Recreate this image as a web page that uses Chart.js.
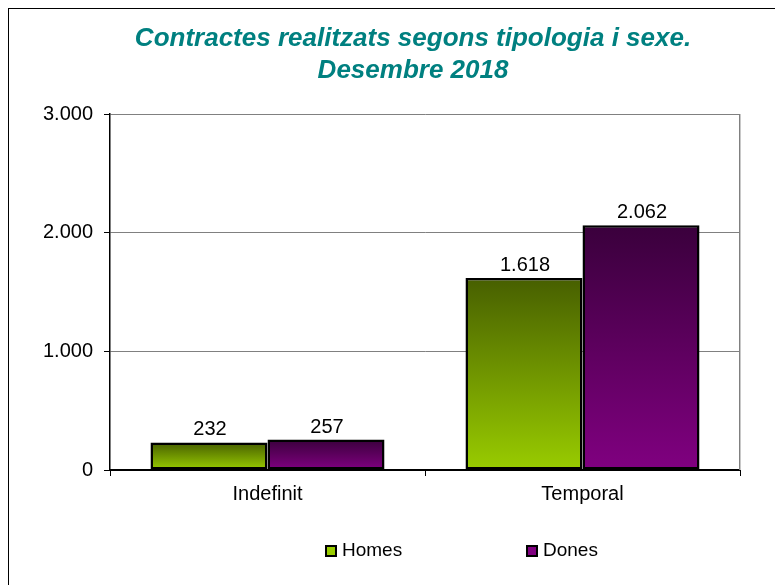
<!DOCTYPE html>
<html>
<head>
<meta charset="utf-8">
<script src="https://cdn.jsdelivr.net/npm/chart.js@4"></script>
<style>
body { margin: 0; background: #fff; }
</style>
</head>
<body>
<canvas id="chart" width="775" height="585"></canvas>
<script>
var titleLines = ["Contractes realitzats segons tipologia i sexe.", "Desembre 2018"];
var categories = ["Indefinit", "Temporal"];
var seriesNames = ["Homes", "Dones"];
var homes = [232, 1618];
var dones = [257, 2062];
var yMax = 3000;
var yStep = 1000;

var FONT = "'Liberation Sans', Arial, sans-serif";

function fmt(v) {
    return String(v).replace(/\B(?=(\d{3})+(?!\d))/g, ".");
}

// vertical gradient, dark at the top of each bar, light at the base
function gradFill(dark, light) {
    return function (ctx) {
        var chart = ctx.chart;
        var y = chart.scales.y;
        if (!chart.chartArea || !y || ctx.type !== "data") return light;
        var top = y.getPixelForValue(ctx.raw);
        var base = y.getPixelForValue(0);
        if (!isFinite(top) || !isFinite(base) || top === base) return light;
        var g = chart.ctx.createLinearGradient(0, top, 0, base);
        g.addColorStop(0, dark);
        g.addColorStop(1, light);
        return g;
    };
}

var seriesColors = [
    {dark: "#475f00", light: "#99cc00"},
    {dark: "#3a003c", light: "#800080"}
];

var decor = {
    id: "decor",
    beforeDraw: function (chart) {
        var c = chart.ctx;
        c.save();
        c.fillStyle = "#fff";
        c.fillRect(0, 0, chart.width, chart.height);
        c.strokeStyle = "#000";
        c.lineWidth = 1;
        c.strokeRect(8.5, 8.5, chart.width + 20, chart.height + 20);
        c.fillStyle = "#008080";
        c.font = "italic bold 26px " + FONT;
        c.textAlign = "center";
        c.textBaseline = "middle";
        c.fillText(titleLines[0], 413, 39);
        c.fillText(titleLines[1], 413, 71);
        c.restore();
    },
    beforeDatasetsDraw: function (chart) {
        var a = chart.chartArea;
        var c = chart.ctx;
        c.save();
        c.lineWidth = 1;
        c.strokeStyle = "#808080";
        c.beginPath();
        c.moveTo(Math.round(a.right) - 0.5, a.top);
        c.lineTo(Math.round(a.right) - 0.5, a.bottom);
        c.stroke();
        c.strokeStyle = "#c8c8c8";
        c.beginPath();
        c.moveTo(Math.round(a.right) + 0.5, a.top);
        c.lineTo(Math.round(a.right) + 0.5, a.bottom);
        c.stroke();
        c.restore();
    },
    afterDatasetsDraw: function (chart) {
        var c = chart.ctx;
        c.save();
        c.fillStyle = "#000";
        c.font = "20px " + FONT;
        c.textAlign = "center";
        c.textBaseline = "alphabetic";
        chart.data.datasets.forEach(function (ds, i) {
            chart.getDatasetMeta(i).data.forEach(function (bar, j) {
                c.fillText(fmt(ds.data[j]), bar.x + 1, bar.y - 7);
            });
        });
        c.restore();
    },
    afterDraw: function (chart) {
        var c = chart.ctx;
        var xs = [326, 527];
        c.save();
        c.font = "19px " + FONT;
        c.textBaseline = "middle";
        c.textAlign = "left";
        chart.data.datasets.forEach(function (ds, i) {
            c.fillStyle = seriesColors[i].light;
            c.fillRect(xs[i], 546, 10, 10);
            c.strokeStyle = "#000";
            c.lineWidth = 2;
            c.strokeRect(xs[i], 546, 10, 10);
            c.fillStyle = "#000";
            c.fillText(ds.label, xs[i] + 16, 551);
        });
        c.restore();
    }
};

new Chart(document.getElementById("chart"), {
    type: "bar",
    data: {
        labels: categories,
        datasets: [{
            label: seriesNames[0],
            data: homes,
            backgroundColor: gradFill(seriesColors[0].dark, seriesColors[0].light),
            borderColor: "#000",
            borderWidth: 2.5,
            borderSkipped: false
        }, {
            label: seriesNames[1],
            data: dones,
            backgroundColor: gradFill(seriesColors[1].dark, seriesColors[1].light),
            borderColor: "#000",
            borderWidth: 2.5,
            borderSkipped: false
        }]
    },
    options: {
        responsive: false,
        devicePixelRatio: 1,
        animation: false,
        categoryPercentage: 0.743,
        barPercentage: 1,
        layout: {padding: {top: 114, left: 0, right: 35, bottom: 75}},
        plugins: {
            legend: {display: false},
            title: {display: false},
            tooltip: {enabled: false}
        },
        scales: {
            x: {
                offset: true,
                afterFit: function (s) { s.height = 40; },
                grid: {offset: true, drawOnChartArea: false, tickLength: 6, tickColor: "#000"},
                border: {color: "#000", width: 2},
                ticks: {color: "#000", font: {family: FONT, size: 20}, padding: 6}
            },
            y: {
                min: 0,
                max: yMax,
                afterFit: function (s) { s.width = 110; },
                grid: {
                    color: function (ctx) { return ctx.tick && ctx.tick.value === 0 ? "rgba(0,0,0,0)" : "#808080"; },
                    tickLength: 6,
                    tickColor: "#000"
                },
                border: {color: "#000", width: 1.5},
                ticks: {
                    stepSize: yStep,
                    color: "#000",
                    font: {family: FONT, size: 20},
                    padding: 11,
                    callback: function (v) { return fmt(v); }
                }
            }
        }
    },
    plugins: [decor]
});
</script>
</body>
</html>
